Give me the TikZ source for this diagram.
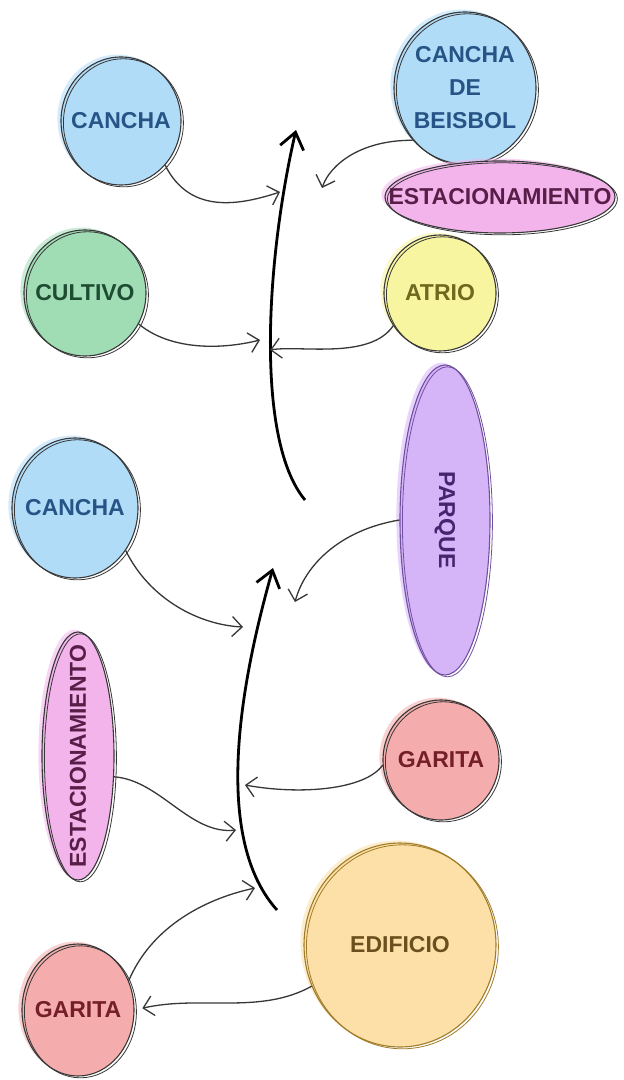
\documentclass[tikz,border=0pt]{standalone}
\usepackage{fontspec}
\setsansfont{Liberation Sans}
\usetikzlibrary{shapes.geometric,arrows.meta}
\definecolor{ink}{RGB}{55,55,55}
\definecolor{skyfill}{RGB}{176,220,248}
\definecolor{skyink}{RGB}{38,84,134}
\definecolor{pinkfill}{RGB}{243,180,236}
\definecolor{pinkink}{RGB}{88,30,72}
\definecolor{leaffill}{RGB}{160,220,180}
\definecolor{leafink}{RGB}{30,76,50}
\definecolor{lemonfill}{RGB}{248,245,160}
\definecolor{lemonink}{RGB}{112,104,30}
\definecolor{lilacfill}{RGB}{214,180,248}
\definecolor{lilacink}{RGB}{72,36,112}
\definecolor{lilacline}{RGB}{112,80,160}
\definecolor{rosefill}{RGB}{245,172,172}
\definecolor{roseink}{RGB}{116,30,40}
\definecolor{peachfill}{RGB}{252,224,168}
\definecolor{peachink}{RGB}{106,80,30}
\definecolor{goldline}{RGB}{160,124,40}

\begin{document}
\begin{tikzpicture}[x=.5pt, y=-.5pt,
    spot/.style n args={3}{ellipse, inner sep=0pt, inner xsep=-16pt,
      fill=#1, text=#2, draw=#3, line width=.55pt,
      font=\sffamily\bfseries\fontsize{11.5}{16.5}\selectfont, align=center,
      preaction={fill=#1, opacity=.55,
        transform canvas={xshift=-1.8pt, yshift=1.2pt}},
      postaction={draw=#3, line width=.4pt,
        transform canvas={xshift=1.2pt, yshift=-.9pt}}},
    link/.style={draw=ink, line width=.65pt,
      -{Straight Barb[length=5pt, width=10pt]}},
    spine/.style={draw=black, line width=1.4pt,
      -{Straight Barb[length=8pt, width=12pt]}}]
    \path [fill=white] (0,0) rectangle (624,1080);
    \useasboundingbox (0,0) rectangle (624,1080);

    \node [spot={skyfill}{skyink}{ink}, minimum width=60pt, minimum height=64pt]
      (cancha1) at (121,121) {CANCHA};
    \node [spot={skyfill}{skyink}{ink}, minimum width=71pt, minimum height=76pt]
      (beisbol) at (465,88) {CANCHA\\DE\\BEISBOL};
    \node [spot={pinkfill}{pinkink}{ink}, minimum width=115pt, minimum height=36pt]
      (estac1) at (500,197) {ESTACIONAMIENTO};
    \node [spot={leaffill}{leafink}{ink}, minimum width=61pt, minimum height=63pt]
      (cultivo) at (85,293) {CULTIVO};
    \node [spot={lemonfill}{lemonink}{ink}, minimum width=56pt, minimum height=58pt]
      (atrio) at (440,293) {ATRIO};
    \node [spot={skyfill}{skyink}{ink}, minimum width=63pt, minimum height=70pt]
      (cancha2) at (75,508) {CANCHA};
    \node [spot={lilacfill}{lilacink}{lilacline}, rotate=-90,
      minimum width=155pt, minimum height=45pt]
      (parque) at (445,520) {PARQUE};
    \node [spot={pinkfill}{pinkink}{ink}, rotate=90,
      minimum width=124pt, minimum height=36pt]
      (estac2) at (78,756) {ESTACIONAMIENTO};
    \node [spot={rosefill}{roseink}{ink}, minimum width=58pt, minimum height=60pt]
      (garita1) at (441,760) {GARITA};
    \node [spot={peachfill}{peachink}{goldline}, minimum width=96pt, minimum height=102pt]
      (edificio) at (400,945) {EDIFICIO};
    \node [spot={rosefill}{roseink}{ink}, minimum width=56pt, minimum height=66pt]
      (garita2) at (78,1010) {GARITA};

    \coordinate (topfoot) at (305,500);
    \coordinate (topend) at (296,130);
    \coordinate (lowfoot) at (277,910);
    \coordinate (lowend) at (273,568);
    \coordinate (up1) at (280,192);
    \coordinate (up2) at (322,188);
    \coordinate (up3) at (260,340);
    \coordinate (up4) at (270,350);
    \coordinate (lo1) at (243,627);
    \coordinate (lo2) at (295,602);
    \coordinate (lo3) at (236,830);
    \coordinate (lo4) at (245,785);
    \coordinate (lo5) at (255,888);

    \draw [spine] (topfoot) .. controls (255,440) and (266,260) .. (topend);
    \draw [spine] (lowfoot) .. controls (205,830) and (250,650) .. (lowend);

    \draw [link] (cancha1.-45) .. controls (190,215) and (240,205) .. (up1);
    \draw [link] (beisbol.-135) .. controls (360,140) and (330,165) .. (up2);
    \draw [link] (cultivo.-30) .. controls (170,350) and (220,350) .. (up3);
    \draw [link] (atrio.-145) .. controls (370,360) and (300,345) .. (up4);
    \draw [link] (cancha2.-40) .. controls (150,600) and (200,625) .. (lo1);
    \draw [link] (parque.south) .. controls (340,530) and (305,565) .. (lo2);
    \draw [link] (estac2.-120) .. controls (160,780) and (190,835) .. (lo3);
    \draw [link] (garita1.-175) .. controls (365,790) and (300,795) .. (lo4);
    \draw [link] (garita2.30) .. controls (150,930) and (200,900) .. (lo5);
    \draw [link, shorten >=4pt] (edificio.-155) .. controls (260,1015) and (200,995) .. (garita2.0);
  \end{tikzpicture}
\end{document}
